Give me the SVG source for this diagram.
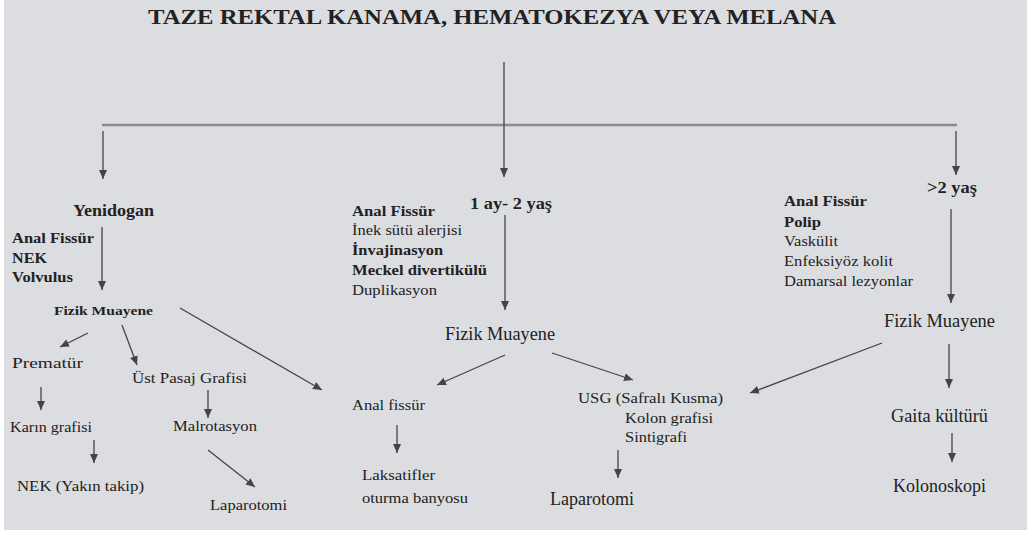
<svg xmlns="http://www.w3.org/2000/svg" width="1031" height="534" viewBox="0 0 1031 534">
<style>
text{font-family:"Liberation Serif","Times New Roman",serif;fill:#222;}
.b{font-weight:bold;}
.t{font-size:22px;font-weight:bold;}
.h{font-size:17px;font-weight:bold;}
.s{font-size:15px;}
.m{font-size:19px;}
.l{font-size:18px;}
.c{fill:none;stroke:#444;stroke-width:1.3;}
</style>
<defs>
<marker id="ah" markerUnits="userSpaceOnUse" markerWidth="10" markerHeight="8" refX="9" refY="4" orient="auto">
<path d="M0,0 L9,4 L0,8 Z" fill="#444"/>
</marker>
</defs>
<rect x="0" y="0" width="1031" height="534" fill="#ffffff"/>
<rect x="4" y="0" width="1023" height="530" fill="#dcdde0"/>
<g id="title"><text class="t" x="148" y="24" textLength="688" lengthAdjust="spacingAndGlyphs">TAZE REKTAL KANAMA, HEMATOKEZYA VEYA MELANA</text></g>
<g id="connectors">
<line x1="102" y1="125" x2="957" y2="125" stroke="#8a8a8a" stroke-width="2.5"/>
<path class="c" d="M504,62 L504,177" marker-end="url(#ah)"/>
<path class="c" d="M103,131 L103,179" marker-end="url(#ah)"/>
<path class="c" d="M956,131 L956,175" marker-end="url(#ah)"/>
<path class="c" d="M102,227 L102,290" marker-end="url(#ah)"/>
<path class="c" d="M88,333 L60,347" marker-end="url(#ah)"/>
<path class="c" d="M122,325 L137,365" marker-end="url(#ah)"/>
<path class="c" d="M180,308 L322,390" marker-end="url(#ah)"/>
<path class="c" d="M41,387 L41,410" marker-end="url(#ah)"/>
<path class="c" d="M208,390 L208,418" marker-end="url(#ah)"/>
<path class="c" d="M94,440 L94,463" marker-end="url(#ah)"/>
<path class="c" d="M208,450 L255,487" marker-end="url(#ah)"/>
<path class="c" d="M505,215 L505,310" marker-end="url(#ah)"/>
<path class="c" d="M505,355 L437,385" marker-end="url(#ah)"/>
<path class="c" d="M552,353 L633,380" marker-end="url(#ah)"/>
<path class="c" d="M397,425 L397,453" marker-end="url(#ah)"/>
<path class="c" d="M618,450 L618,478" marker-end="url(#ah)"/>
<path class="c" d="M951,209 L951,303" marker-end="url(#ah)"/>
<path class="c" d="M882,343 L750,393" marker-end="url(#ah)"/>
<path class="c" d="M949,344 L949,388" marker-end="url(#ah)"/>
<path class="c" d="M952,433 L952,462" marker-end="url(#ah)"/>
</g>
<g id="yenidogan"><text class="h" x="73" y="216" textLength="81" lengthAdjust="spacingAndGlyphs">Yenidogan</text></g>
<g id="yenidogan-list">
<text class="s b" x="12" y="243" textLength="82" lengthAdjust="spacingAndGlyphs">Anal Fissür</text>
<text class="s b" x="12" y="263" textLength="35" lengthAdjust="spacingAndGlyphs">NEK</text>
<text class="s b" x="12" y="282" textLength="61" lengthAdjust="spacingAndGlyphs">Volvulus</text>
</g>
<g id="fm-left"><text class="b" style="font-size:13px" x="54" y="315" textLength="99" lengthAdjust="spacingAndGlyphs">Fizik Muayene</text></g>
<g id="prematur"><text class="s" x="12" y="368" textLength="71" lengthAdjust="spacingAndGlyphs">Prematür</text></g>
<g id="ust-pasaj"><text class="s" x="132" y="383" textLength="115" lengthAdjust="spacingAndGlyphs">Üst Pasaj Grafisi</text></g>
<g id="karin"><text class="s" x="10" y="432" textLength="82" lengthAdjust="spacingAndGlyphs">Karın grafisi</text></g>
<g id="malrotasyon"><text class="s" x="173" y="431" textLength="84" lengthAdjust="spacingAndGlyphs">Malrotasyon</text></g>
<g id="nek-takip"><text class="s" x="17" y="491" textLength="127" lengthAdjust="spacingAndGlyphs">NEK (Yakın takip)</text></g>
<g id="laparotomi-left"><text class="s" x="210" y="510" textLength="77" lengthAdjust="spacingAndGlyphs">Laparotomi</text></g>
<g id="ay2yas"><text class="h" x="470" y="209" textLength="82" lengthAdjust="spacingAndGlyphs">1 ay- 2 yaş</text></g>
<g id="ay2yas-list">
<text class="s b" x="352" y="216" textLength="83" lengthAdjust="spacingAndGlyphs">Anal Fissür</text>
<text class="s" x="352" y="235" textLength="110" lengthAdjust="spacingAndGlyphs">İnek sütü alerjisi</text>
<text class="s b" x="352" y="255" textLength="91" lengthAdjust="spacingAndGlyphs">İnvajinasyon</text>
<text class="s b" x="352" y="275" textLength="135" lengthAdjust="spacingAndGlyphs">Meckel divertikülü</text>
<text class="s" x="352" y="295" textLength="85" lengthAdjust="spacingAndGlyphs">Duplikasyon</text>
</g>
<g id="fm-mid"><text class="m" x="445" y="340" textLength="110" lengthAdjust="spacingAndGlyphs">Fizik Muayene</text></g>
<g id="anal-fissur"><text class="s" x="352" y="410" textLength="73" lengthAdjust="spacingAndGlyphs">Anal fissür</text></g>
<g id="laksatifler">
<text class="s" x="362" y="480" textLength="73" lengthAdjust="spacingAndGlyphs">Laksatifler</text>
<text class="s" x="362" y="503" textLength="106" lengthAdjust="spacingAndGlyphs">oturma banyosu</text>
</g>
<g id="usg">
<text class="s" x="578" y="403" textLength="145" lengthAdjust="spacingAndGlyphs">USG (Safralı Kusma)</text>
<text class="s" x="625" y="423" textLength="88" lengthAdjust="spacingAndGlyphs">Kolon grafisi</text>
<text class="s" x="625" y="442" textLength="62" lengthAdjust="spacingAndGlyphs">Sintigrafi</text>
</g>
<g id="laparotomi-mid"><text class="l" x="550" y="505" textLength="84" lengthAdjust="spacingAndGlyphs">Laparotomi</text></g>
<g id="gt2yas"><text class="h" x="927" y="193" textLength="50" lengthAdjust="spacingAndGlyphs">&gt;2 yaş</text></g>
<g id="gt2yas-list">
<text class="s b" x="784" y="206" textLength="83" lengthAdjust="spacingAndGlyphs">Anal Fissür</text>
<text class="s b" x="784" y="227" textLength="37" lengthAdjust="spacingAndGlyphs">Polip</text>
<text class="s" x="784" y="246" textLength="54" lengthAdjust="spacingAndGlyphs">Vaskülit</text>
<text class="s" x="784" y="266" textLength="109" lengthAdjust="spacingAndGlyphs">Enfeksiyöz kolit</text>
<text class="s" x="784" y="286" textLength="129" lengthAdjust="spacingAndGlyphs">Damarsal lezyonlar</text>
</g>
<g id="fm-right"><text class="m" x="884" y="327" textLength="111" lengthAdjust="spacingAndGlyphs">Fizik Muayene</text></g>
<g id="gaita"><text class="l" x="891" y="422" textLength="97" lengthAdjust="spacingAndGlyphs">Gaita kültürü</text></g>
<g id="kolonoskopi"><text class="l" x="893" y="492" textLength="93" lengthAdjust="spacingAndGlyphs">Kolonoskopi</text></g>
</svg>
